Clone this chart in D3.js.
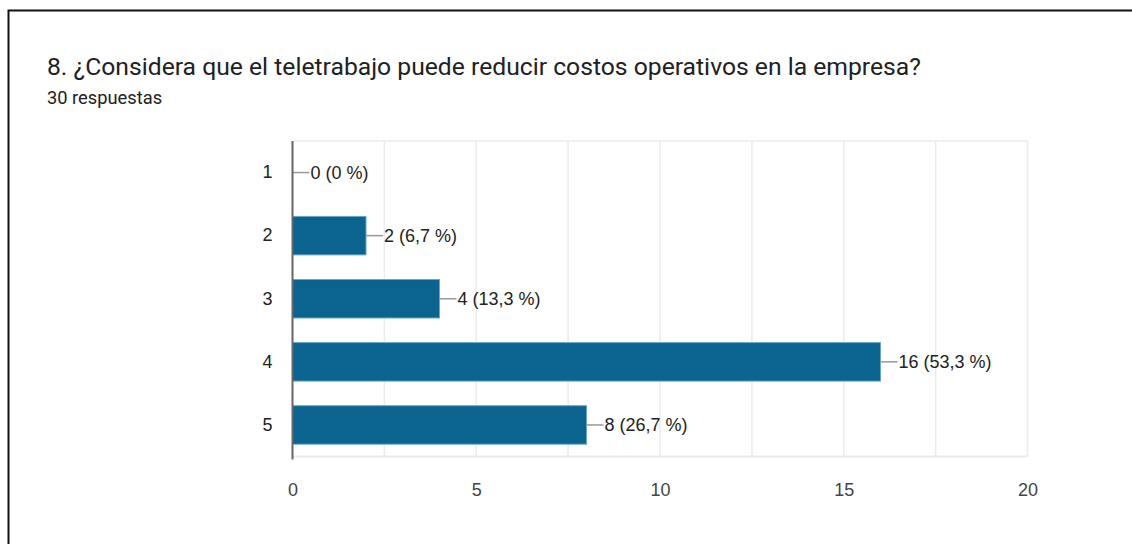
<!DOCTYPE html>
<html>
<head>
<meta charset="utf-8">
<script src="https://cdn.jsdelivr.net/npm/d3@7"></script>
<style>
  body { margin: 0; background: #fff; }
  svg { display: block; }
</style>
</head>
<body>
<div id="chart"></div>
<script>
// data
var categories = ["1", "2", "3", "4", "5"]
var counts     = [0, 2, 4, 16, 8]
var percents   = ["0 %", "6,7 %", "13,3 %", "53,3 %", "26,7 %"]
var xTicks     = [0, 5, 10, 15, 20]
var xGrid      = [2.5, 5, 7.5, 10, 12.5, 15, 17.5, 20]

var title    = "8. ¿Considera que el teletrabajo puede reducir costos operativos en la empresa?"
var subtitle = "30 respuestas"

var W = 1132, H = 544
var plot = {left: 292.5, right: 1027.5, top: 141, bottom: 456.5}

var svg = d3.select("#chart").append("svg")
  .attr("width", W)
  .attr("height", H)

// card frame
svg.append("rect")
  .attr("x", 8.5).attr("y", 10.5)
  .attr("width", W + 10).attr("height", H + 10)
  .attr("fill", "#fff")
  .attr("stroke", "#111")
  .attr("stroke-width", 2)

svg.append("text")
  .attr("x", 47).attr("y", 75)
  .attr("font-family", "Roboto")
  .attr("font-size", 24.7)
  .attr("fill", "#202124")
  .text(title)

svg.append("text")
  .attr("x", 47).attr("y", 104)
  .attr("font-family", "Roboto")
  .attr("font-size", 18.3)
  .attr("fill", "#202124")
  .text(subtitle)

var x = d3.scaleLinear().domain([0, 20]).range([plot.left, plot.right])
var y = d3.scaleBand().domain(categories).range([plot.top, plot.bottom])
  .paddingInner(0.39).paddingOuter(0.195)

// grid
svg.append("g").selectAll("line").data(xGrid).enter().append("line")
  .attr("x1", function(d) { return x(d) }).attr("x2", function(d) { return x(d) })
  .attr("y1", plot.top).attr("y2", plot.bottom)
  .attr("stroke", "#ebebeb").attr("stroke-width", 1.5)

svg.append("line")
  .attr("x1", plot.left).attr("x2", plot.right)
  .attr("y1", plot.top).attr("y2", plot.top)
  .attr("stroke", "#ebebeb").attr("stroke-width", 1.5)
svg.append("line")
  .attr("x1", plot.left).attr("x2", plot.right)
  .attr("y1", plot.bottom).attr("y2", plot.bottom)
  .attr("stroke", "#ebebeb").attr("stroke-width", 2)

// x axis labels
var xAxis = svg.append("g")
  .attr("transform", "translate(0," + (plot.bottom + 27) + ")")
  .call(d3.axisBottom(x).tickValues(xTicks).tickSize(0).tickPadding(0))
xAxis.select(".domain").remove()
xAxis.selectAll("text")
  .attr("font-family", "Liberation Sans, Arial")
  .attr("font-size", 18)
  .attr("fill", "#444")

// y axis labels
var yAxis = svg.append("g")
  .attr("transform", "translate(" + (plot.left - 20) + ",0)")
  .call(d3.axisLeft(y).tickSize(0).tickPadding(0))
yAxis.select(".domain").remove()
yAxis.selectAll("text")
  .attr("font-family", "Liberation Sans, Arial")
  .attr("font-size", 18)
  .attr("fill", "#222")

var rows = categories.map(function(c, i) {
  return {cat: c, value: counts[i], pct: percents[i]}
})

svg.selectAll(".bar").data(rows).enter().append("rect")
  .attr("class", "bar")
  .attr("x", x(0))
  .attr("y", function(d) { return y(d.cat) })
  .attr("width", function(d) { return x(d.value) - x(0) })
  .attr("height", y.bandwidth())
  .attr("fill", "#0b638f")
  .attr("stroke", function(d) { return d.value > 0 ? "#6aa6c6" : "none" })
  .attr("stroke-width", 1)

// leader lines + value labels
svg.selectAll(".leader").data(rows).enter().append("line")
  .attr("class", "leader")
  .attr("x1", function(d) { return x(d.value) })
  .attr("x2", function(d) { return x(d.value) + 17 })
  .attr("y1", function(d) { return y(d.cat) + y.bandwidth() / 2 })
  .attr("y2", function(d) { return y(d.cat) + y.bandwidth() / 2 })
  .attr("stroke", "#999").attr("stroke-width", 1.5)

svg.selectAll(".val").data(rows).enter().append("text")
  .attr("class", "val")
  .attr("x", function(d) { return x(d.value) + 18 })
  .attr("y", function(d) { return y(d.cat) + y.bandwidth() / 2 })
  .attr("dy", "0.35em")
  .attr("font-family", "Liberation Sans, Arial")
  .attr("font-size", 18)
  .attr("fill", "#222")
  .text(function(d) { return d.value + " (" + d.pct + ")" })

// left axis line
svg.append("line")
  .attr("x1", plot.left).attr("x2", plot.left)
  .attr("y1", plot.top).attr("y2", plot.bottom + 3)
  .attr("stroke", "#666").attr("stroke-width", 2)
</script>
</body>
</html>
